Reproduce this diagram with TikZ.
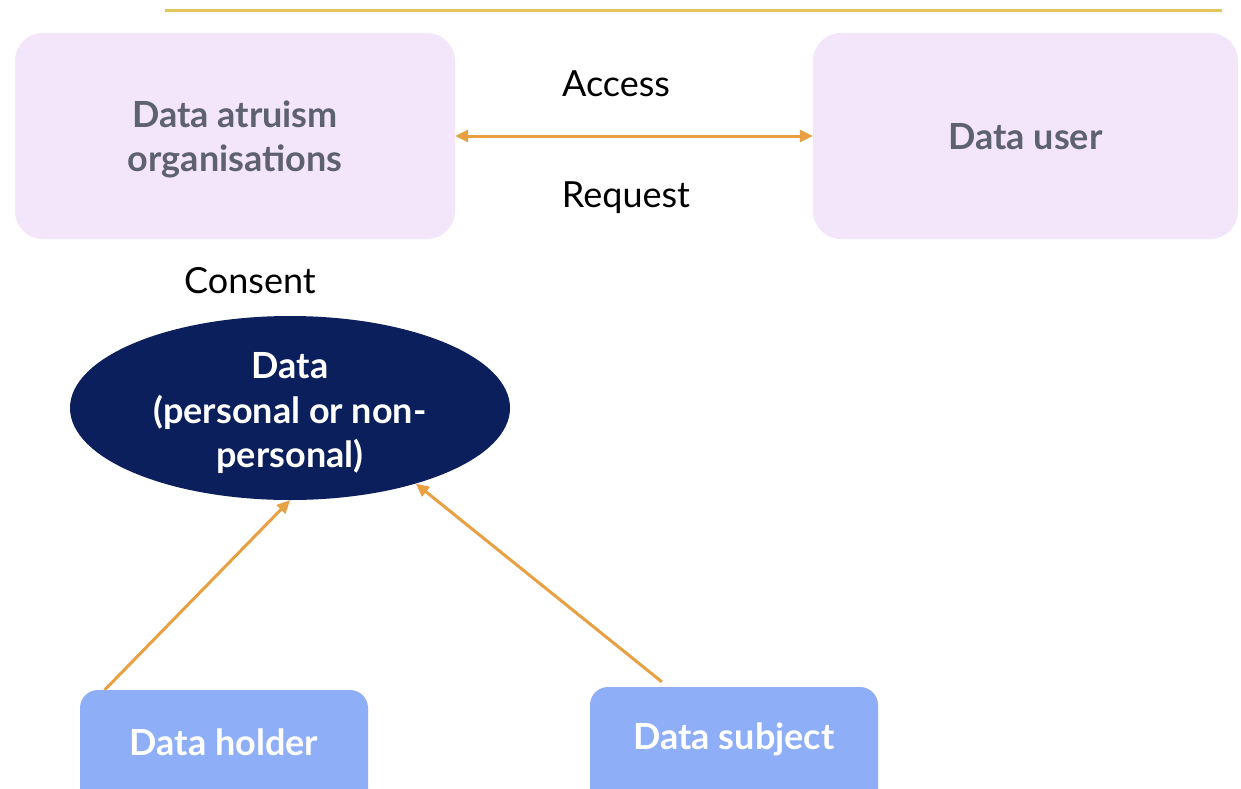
\documentclass[tikz,border=0pt]{standalone}
\usepackage{fontspec}
\setmainfont{Lato}
\usetikzlibrary{arrows.meta,shapes.geometric,calc}
\definecolor{lav}{HTML}{F3E6FA}
\definecolor{slate}{HTML}{5E6170}
\definecolor{amber}{HTML}{E8A043}
\definecolor{navy}{HTML}{0B1F5C}
\definecolor{sky}{HTML}{8FAEF8}
\definecolor{gold}{HTML}{E2C85C}
\tikzset{
  topbox/.style={fill=lav, rounded corners=28pt, minimum width=440pt, minimum height=206pt, inner sep=0pt},
  toptext/.style={font=\fontsize{36}{44}\selectfont\bfseries, text=slate, align=center, inner sep=0pt},
  botbox/.style={fill=sky, rounded corners=18pt, minimum width=288pt, minimum height=150pt, inner sep=0pt},
  bottext/.style={font=\fontsize{36}{44}\selectfont\bfseries, text=white, inner sep=0pt},
  lbl/.style={font=\fontsize{36}{42}\selectfont, text=black, inner sep=0pt},
  flow/.style={draw=amber, line width=3pt, -{Triangle[length=13pt,width=12pt]}},
}
\begin{document}
\begin{tikzpicture}[x=1pt,y=-1pt]
  \fill[white] (0,0) rectangle (1241,788);
  \useasboundingbox (0,0) rectangle (1241,788);
  \clip (0,0) rectangle (1241,788);

  % header rule
  \draw[gold, line width=3pt] (165,10) -- (1222,10);

  % top row
  \node[topbox] (dao) at (235,136) {};
  \node[toptext] (daotxt) at (235,139) {Data atruism\\organisations};
  \node[topbox, minimum width=425pt] (user) at (1025.5,136) {};
  \node[toptext] (usertxt) at (1025.5,137) {Data user};
  \draw[flow, {Triangle[length=13pt,width=12pt]}-{Triangle[length=13pt,width=12pt]}] (dao.east) -- (user.west);
  \node[lbl] (acc) at (616,84) {Access};
  \node[lbl] (req) at (626,198) {Request};
  \node[lbl] (cons) at (250,281) {Consent};

  % data ellipse
  \node[ellipse, fill=navy, minimum width=440pt, minimum height=184pt, inner sep=0pt] (data) at (290,408) {};
  \node[text=white, align=center, inner sep=0pt, font=\fontsize{36}{44.5}\selectfont\bfseries]
        (datatxt) at (290,413) {Data\\(personal or non-\\personal)};

  % sources (boxes run past the lower edge)
  \node[botbox] (holder) at (224,765) {};
  \node[bottext] (holdertxt) at (224,742) {Data holder};
  \node[botbox] (subject) at (734,762) {};
  \node[bottext] (subjecttxt) at (734,739) {Data subject};
  \coordinate (hs) at ($(holder.north west)+(25,0)$);
  \coordinate (ss) at ($(subject.north west)+(72,-5)$);
  \draw[flow] (hs) -- (data.-90);
  \draw[flow] (ss) -- (data.-31);
\end{tikzpicture}
\end{document}
